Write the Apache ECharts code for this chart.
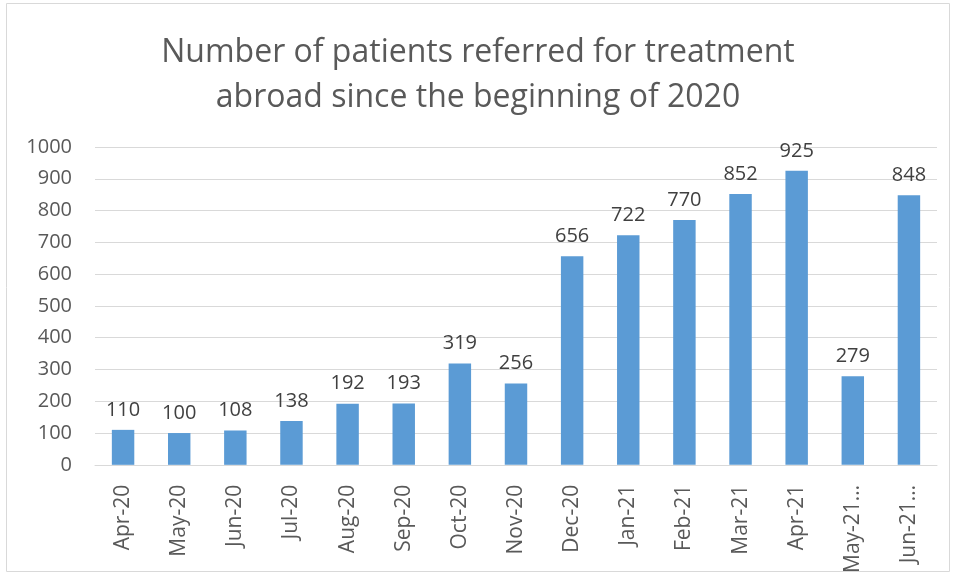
<!DOCTYPE html>
<html><head><meta charset="utf-8">
<script src="https://cdn.jsdelivr.net/npm/echarts@6/dist/echarts.min.js"></script>
<style>html,body{margin:0;padding:0;background:#fff}#c{width:956px;height:576px}</style>
</head><body><div id="c"></div>
<script>
const titleText = 'Number of patients referred for treatment\nabroad since the beginning of 2020';
const categories = ['Apr-20','May-20','Jun-20','Jul-20','Aug-20','Sep-20','Oct-20','Nov-20','Dec-20','Jan-21','Feb-21','Mar-21','Apr-21','May-21…','Jun-21…'];
const patients = [110,100,108,138,192,193,319,256,656,722,770,852,925,279,848];
const yTicks = {min:0, max:1000, interval:100};

const chart = echarts.init(document.getElementById('c'));
const font = 'Open Sans, Noto Sans, sans-serif';
chart.setOption({
  animation:false,
  graphic:[{type:'rect',shape:{x:6.5,y:3.5,width:943,height:568},style:{fill:'none',stroke:'#d9d9d9',lineWidth:1}}],
  title:{text:titleText,left:'center',top:25,textStyle:{fontFamily:font,fontSize:32,fontWeight:'normal',color:'#595959',lineHeight:45}},
  grid:{left:95,right:19,top:147,bottom:109,containLabel:false},
  xAxis:{type:'category',data:categories,
    axisLine:{lineStyle:{color:'#d9d9d9',width:1}},axisTick:{show:false},
    axisLabel:{rotate:90,fontFamily:font,fontSize:21,color:'#595959',margin:20,interval:0}},
  yAxis:{type:'value',min:yTicks.min,max:yTicks.max,interval:yTicks.interval,
    splitLine:{lineStyle:{color:'#d9d9d9',width:1}},axisLine:{show:false},axisTick:{show:false},
    axisLabel:{fontFamily:font,fontSize:20,color:'#595959',margin:23,formatter:v=>String(v)}},
  series:[{type:'bar',data:patients,barWidth:'40%',itemStyle:{color:'#5b9bd5'},
    label:{show:true,position:'top',distance:10,fontFamily:font,fontSize:20,color:'#404040'}}]
});
</script></body></html>
